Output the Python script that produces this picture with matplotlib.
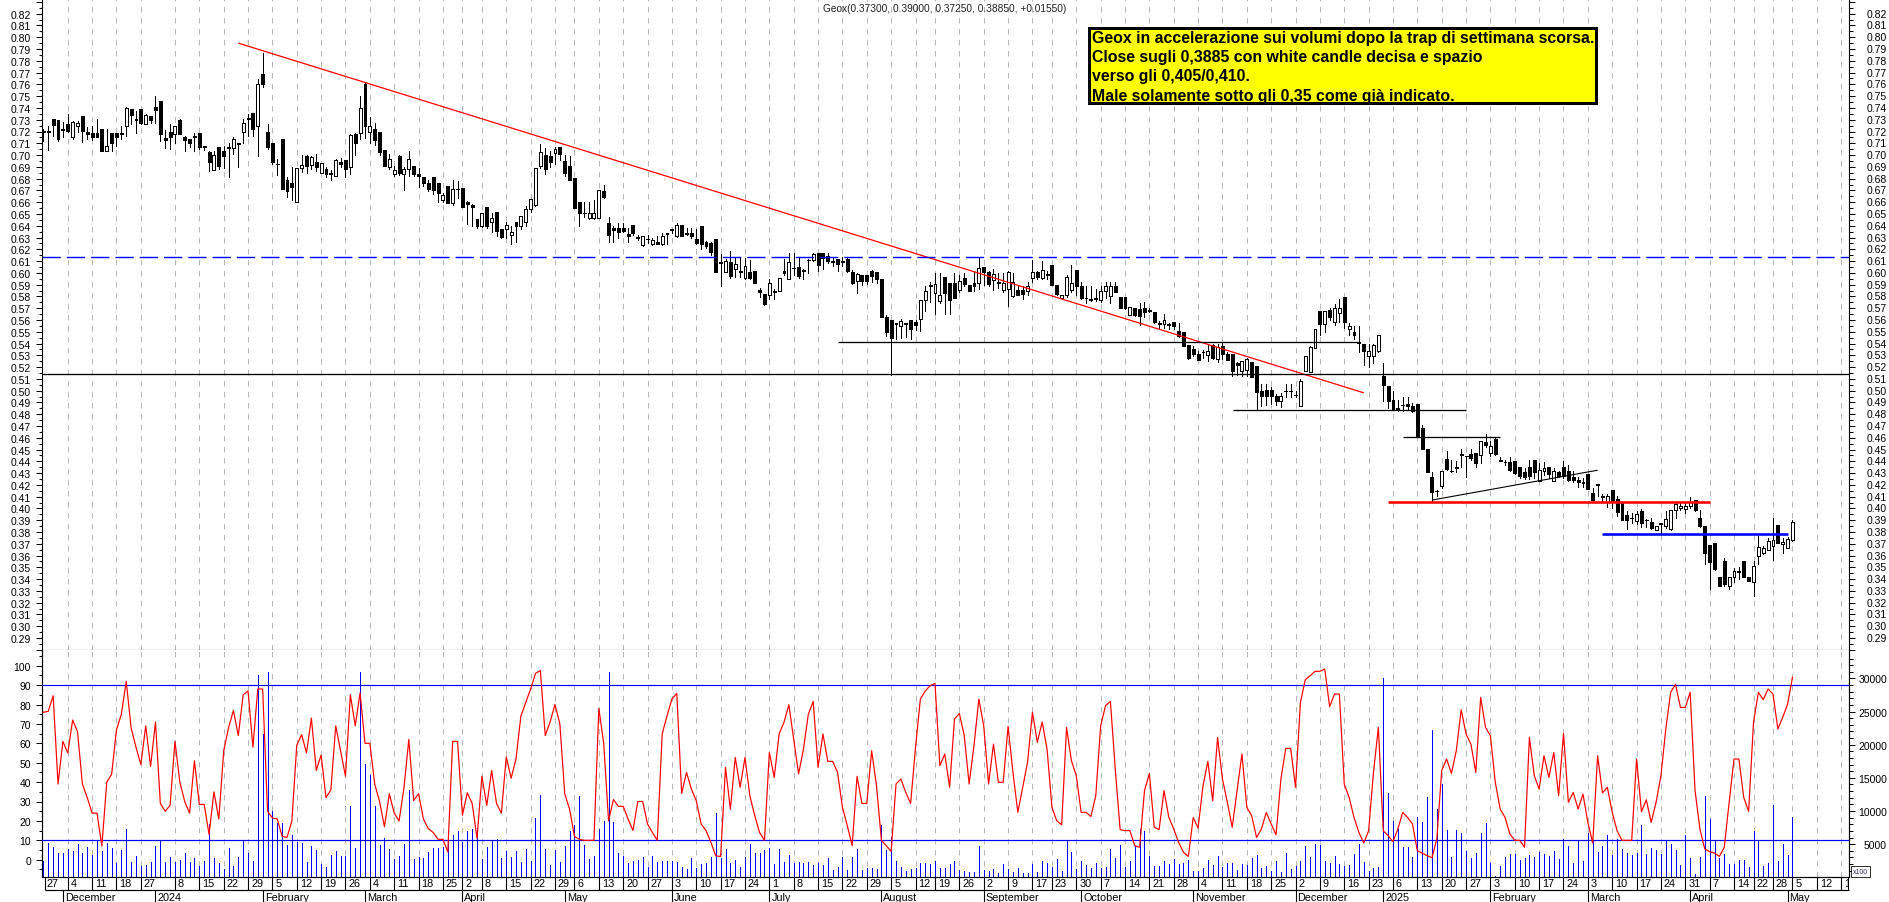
import matplotlib
matplotlib.use("Agg")
import matplotlib.pyplot as plt
from matplotlib.patches import Rectangle
from matplotlib.ticker import FixedLocator, NullFormatter, FuncFormatter
import numpy as np

plt.rcParams['font.family'] = ['Liberation Sans', 'DejaVu Sans']

W, H = 1890, 903

opens = [
 .7205,.7203,.7305,.7295,.7225,.7265,.7155,.7245,.7335,.7195,
 .7185,.7187,.722,.7035,.719,.719,.719,.725,.739,.731,
 .739,.7265,.7335,.741,.7455,.7145,.72,.7175,.73,.7155,
 .7135,.716,.7185,.708,.7025,.6875,.7065,.7035,.7065,.7058,
 .7105,.72,.7315,.7355,.725,.7685,.72,.71,.692,.714,
 .679,.6765,.66,.689,.6995,.6915,.694,.685,.688,.6845,
 .6825,.6945,.696,.69,.718,.7185,.76,.72,.7225,.72,
 .704,.69,.6835,.6995,.6835,.6885,.6905,.6835,.681,.676,
 .681,.676,.662,.6735,.6595,.6715,.672,.66,.6575,.6455,
 .6395,.6555,.6435,.6515,.637,.637,.632,.6435,.6395,.6435,
 .6545,.658,.691,.7,.699,.7015,.7068,.695,.6905,.6805,
 .66,.651,.6465,.6465,.6465,.6695,.6425,.638,.638,.638,
 .633,.6405,.6305,.6239,.629,.6245,.6265,.6245,.6335,.6375,
 .6315,.6405,.6335,.6335,.629,.6395,.6258,.6255,.6287,.6095,
 .6004,.6089,.6034,.6018,.5959,.601,.6013,.5852,.582,.5815,
 .5843,.5843,.6013,.595,.604,.6047,.6024,.6105,.6112,.6168,
 .6168,.614,.6097,.6117,.6097,.6117,.6007,.5928,.5982,.5982,
 .6013,.601,.5948,.5628,.56,.5575,.5545,.5575,.5602,.558,
 .5608,.5767,.5897,.5826,.5758,.5962,.5911,.5911,.5854,.5956,
 .5897,.5914,.591,.6047,.6007,.5942,.5919,.5857,.5863,.5806,
 .5851,.5851,.5843,.5953,.601,.5959,.5992,.6064,.5897,.5789,
 .5815,.5857,.6024,.5888,.5789,.5778,.5783,.5767,.5843,.58,
 .5888,.5792,.5792,.5645,.5699,.5693,.5699,.5683,.5665,.5575,
 .5563,.556,.558,.5509,.5495,.5387,.5353,.5311,.5325,.5302,
 .5387,.5268,.5376,.5311,.5311,.5234,.517,.5175,.5243,.5206,
 .4994,.5008,.5005,.4957,.4912,.4999,.4999,.4963,.4873,.5167,
 .5161,.5359,.5676,.5566,.5685,.558,.5656,.5795,.5523,.55,
 .541,.5393,.5291,.5297,.5334,.5124,.5037,.4921,.485,.4878,
 .4884,.4872,.4887,.468,.4505,.4267,.4151,.4188,.4417,.4318,
 .4349,.446,.4448,.446,.4468,.4454,.4567,.4473,.459,.4411,
 .4398,.4391,.4406,.4355,.4306,.4349,.4408,.4236,.4315,.4355,
 .423,.4306,.4349,.4318,.427,.4241,.4222,.4292,.4131,.4205,
 .4106,.4056,.4154,.408,.4052,.3945,.3916,.3896,.3975,.3905,
 .3888,.3819,.3874,.3854,.3822,.3984,.4005,.3999,.4018,.4075,
 .3919,.3854,.3692,.3704,.3415,.3551,.3345,.3415,.3466,.3551,
 .3415,.3373,.3599,.3622,.365,.3684,.3857,.3695,.3665,.373]
closes = [
 .7195,.7197,.7255,.7135,.7215,.7205,.728,.727,.7205,.718,
 .715,.7155,.7035,.7075,.71,.715,.718,.74,.734,.7295,
 .727,.734,.73,.7385,.718,.7125,.7155,.725,.718,.7125,
 .71,.715,.7065,.7065,.6945,.7,.691,.6995,.706,.7135,
 .7098,.7275,.731,.7225,.76,.76,.7065,.6945,.6925,.6715,
 .6695,.6725,.689,.6915,.691,.698,.69,.693,.6835,.6835,
 .6955,.692,.688,.717,.7105,.74,.7245,.7245,.713,.703,
 .691,.697,.6875,.6845,.688,.697,.6835,.6825,.6765,.671,
 .6705,.6675,.6665,.659,.6715,.671,.6555,.6585,.6555,.6395,
 .6505,.6395,.6465,.6355,.6305,.641,.635,.64,.6485,.6545,
 .6625,.689,.7025,.688,.6945,.7055,.7005,.685,.679,.655,
 .651,.6505,.651,.651,.67,.6645,.632,.6365,.6345,.6355,
 .6315,.6335,.63,.631,.6288,.628,.6245,.6315,.633,.6365,
 .6405,.631,.633,.6315,.6255,.6245,.6225,.6175,.6004,.6085,
 .6097,.597,.6072,.6004,.6055,.5959,.5914,.5835,.5735,.5911,
 .584,.5953,.6,.609,.6038,.5976,.6012,.6112,.616,.607,
 .6125,.6097,.609,.6078,.609,.6013,.5914,.599,.5928,.5928,
 .5976,.5948,.5628,.55,.5447,.557,.5588,.557,.5522,.556,
 .5767,.5846,.589,.5908,.5812,.5826,.5772,.5786,.5933,.5905,
 .5848,.5892,.6038,.6004,.5905,.599,.5915,.5914,.6004,.5919,
 .5812,.5817,.5885,.6004,.5967,.6021,.5985,.5897,.582,.5812,
 .5962,.5914,.589,.5789,.5785,.577,.5778,.5846,.5888,.589,
 .584,.5704,.5704,.5707,.5645,.5631,.5665,.5675,.5585,.557,
 .5602,.5565,.5552,.5461,.5382,.5274,.5311,.5263,.5325,.5334,
 .5274,.537,.5311,.5263,.5164,.5217,.5254,.5268,.5113,.4991,
 .4952,.4957,.4957,.4912,.4957,.4995,.4995,.496,.5082,.5291,
 .5368,.5523,.5566,.5676,.5628,.5699,.5699,.558,.5546,.5475,
 .5405,.5334,.5334,.5388,.5472,.5048,.4915,.4836,.4836,.4875,
 .4867,.4827,.4612,.4508,.4312,.4137,.4148,.4315,.4335,.4315,
 .4345,.4455,.4445,.4425,.4386,.4575,.4541,.4527,.4462,.4405,
 .4395,.4323,.4298,.4278,.427,.4278,.4307,.4329,.434,.429,
 .4315,.4278,.4278,.4245,.4245,.4222,.422,.4165,.4075,.42,
 .41,.4108,.4056,.3967,.3902,.3902,.3915,.3953,.3876,.39,
 .3834,.3848,.387,.391,.3984,.4035,.402,.4018,.4058,.399,
 .3854,.3622,.3543,.3486,.3345,.3359,.3415,.3466,.346,.3421,
 .3385,.3514,.367,.3662,.3727,.3732,.3704,.3718,.374,.3885]
highs = [
 .7225,.7245,.7305,.7295,.728,.7345,.7285,.729,.7335,.724,
 .725,.7305,.722,.722,.719,.719,.725,.7405,.739,.7375,
 .739,.735,.7335,.75,.7455,.7215,.7265,.725,.7305,.716,
 .7135,.719,.7185,.7075,.7035,.7035,.7065,.7075,.7105,.7155,
 .7105,.7305,.7345,.7355,.7645,.7865,.7265,.71,.6965,.714,
 .6815,.69,.689,.7,.7,.699,.701,.693,.6895,.6875,
 .6965,.6975,.696,.7175,.7185,.7505,.7615,.7325,.7275,.72,
 .704,.7005,.6905,.7,.69,.7035,.6905,.689,.681,.6785,
 .681,.676,.6675,.6735,.6785,.678,.672,.661,.6585,.6455,
 .651,.6555,.651,.6515,.6375,.643,.64,.6435,.6485,.6565,
 .6625,.689,.709,.706,.7035,.707,.7068,.7,.699,.6805,
 .66,.66,.66,.6615,.67,.675,.6475,.64,.642,.6425,
 .6385,.6405,.6325,.6315,.632,.63,.631,.634,.634,.6375,
 .642,.6405,.6385,.6385,.6375,.6395,.627,.6262,.6287,.6162,
 .6115,.6185,.6135,.6132,.613,.6105,.6013,.5872,.582,.595,
 .5865,.5953,.612,.6165,.6165,.613,.603,.6115,.617,.6168,
 .6168,.6168,.6135,.6117,.6135,.6135,.6025,.6,.5982,.5982,
 .6025,.601,.5948,.5645,.56,.5575,.5608,.5575,.5602,.56,
 .5767,.5885,.5925,.6,.6,.5962,.5911,.6,.5985,.6,
 .5897,.6015,.613,.6047,.6015,.603,.6,.6,.6015,.6,
 .5885,.5885,.5922,.611,.6015,.6098,.6015,.6064,.5897,.5815,
 .5985,.6065,.6024,.5925,.5885,.5885,.5865,.5885,.5925,.5922,
 .592,.5792,.5792,.5707,.5705,.5745,.5755,.5705,.5665,.5595,
 .5655,.5575,.5585,.5575,.5495,.5387,.5375,.5335,.5345,.5385,
 .54,.54,.5405,.5325,.5311,.5245,.5256,.5275,.5243,.5206,
 .5055,.5055,.5035,.4975,.498,.5055,.5055,.4999,.5098,.5295,
 .5375,.5523,.5676,.5676,.5705,.5735,.5778,.5795,.5575,.5545,
 .5545,.5393,.5393,.5395,.5472,.5235,.5037,.4995,.492,.4945,
 .4945,.4895,.4887,.4705,.4505,.431,.4155,.4315,.4485,.441,
 .4405,.4505,.4445,.4505,.4468,.4575,.4635,.4575,.4595,.4435,
 .4415,.4435,.4406,.4355,.4345,.4415,.4408,.4385,.4395,.4355,
 .4345,.4322,.4405,.4365,.4315,.4265,.426,.4292,.4175,.42,
 .4125,.412,.4154,.4105,.4052,.3975,.3965,.3975,.3992,.3912,
 .3915,.3848,.3874,.3975,.3984,.4055,.405,.4055,.4095,.4075,
 .3985,.3854,.3692,.3704,.3415,.3578,.3415,.3492,.3505,.3551,
 .3415,.3555,.3765,.3682,.3747,.3915,.3857,.3745,.3755,.39]
lows = [
 .712,.7045,.716,.712,.715,.72,.7135,.72,.7115,.714,
 .713,.7155,.7035,.7035,.7035,.708,.714,.7165,.726,.7185,
 .7265,.7265,.7275,.727,.712,.706,.7055,.71,.718,.7035,
 .7065,.7035,.705,.7045,.6865,.6875,.6885,.689,.6815,.7012,
 .69,.7105,.7165,.7165,.6995,.758,.7055,.6925,.683,.6715,
 .6645,.662,.66,.6855,.685,.688,.6865,.6845,.6815,.6785,
 .682,.6895,.681,.684,.7,.7135,.7145,.7105,.7085,.7,
 .691,.688,.682,.683,.6705,.6825,.682,.6725,.6735,.6695,
 .667,.6605,.6605,.659,.6575,.6635,.6555,.6415,.64,.6385,
 .639,.638,.6345,.631,.63,.63,.6245,.6265,.637,.64,
 .652,.657,.689,.684,.69,.6925,.696,.682,.679,.655,
 .64,.6475,.646,.646,.6465,.6635,.6265,.6265,.63,.6345,
 .6265,.632,.628,.6225,.625,.624,.6245,.6235,.6245,.6335,
 .6305,.631,.632,.63,.6245,.62,.6215,.6155,.6004,.5885,
 .6004,.5958,.5965,.5965,.5945,.595,.5914,.5795,.5725,.5775,
 .578,.5843,.5985,.595,.5985,.5955,.5945,.6,.61,.6015,
 .6035,.608,.606,.6015,.606,.601,.5905,.5825,.5895,.5905,
 .5925,.5915,.5628,.5465,.5135,.5435,.5445,.5455,.5435,.5515,
 .5505,.5675,.575,.5655,.5745,.5655,.5655,.5785,.5835,.589,
 .5848,.5845,.5862,.5895,.589,.5855,.587,.5835,.572,.5795,
 .581,.578,.5815,.5925,.5945,.5945,.5945,.5897,.5815,.5775,
 .5795,.584,.5815,.5775,.5745,.5765,.5765,.575,.5785,.5745,
 .584,.5704,.5695,.5645,.563,.5555,.5625,.5665,.5575,.553,
 .5535,.552,.5525,.5455,.5382,.5265,.5295,.5263,.5275,.5255,
 .5265,.5245,.5265,.5265,.5128,.5135,.5128,.5125,.5113,.4845,
 .487,.4875,.489,.4875,.4865,.4945,.4945,.4945,.4873,.5167,
 .5155,.5359,.5475,.5495,.56,.556,.5585,.553,.5475,.544,
 .533,.522,.52,.5235,.533,.4915,.4855,.4836,.4825,.483,
 .484,.4815,.4612,.4508,.431,.4065,.4105,.4175,.4325,.431,
 .431,.4355,.4265,.441,.4355,.4385,.4525,.4445,.4455,.44,
 .4365,.4315,.4295,.4255,.425,.425,.4255,.4236,.428,.4255,
 .423,.4265,.4255,.4235,.4225,.4185,.4185,.4165,.4075,.411,
 .4065,.4015,.4,.3935,.3902,.3825,.3875,.387,.3845,.3845,
 .3825,.3815,.3785,.3835,.382,.3915,.3985,.396,.4,.3975,
 .3845,.3525,.3315,.3475,.3345,.3345,.3315,.3375,.3405,.3421,
 .3385,.3255,.3525,.3615,.3645,.356,.3704,.3625,.3665,.3725]
oscillator = [
 76,76.5,84.5,39,61,55,72,66,39,32,
 24,24,7,40,44,67,75,92,68,58,
 49,69,48,71,29,25,28,61,40,30,
 24,51,28.5,28.5,13,35,21,56,68,77,
 64,85,87,58,88,88,25,21.5,21,12,
 11.5,20,59,64.5,55,73,46,54,32,36,
 69,56,43,85,69,86,60,60,39,30,
 17,34,24,20,37,62,30.5,34,21,16,
 14,10.5,10.5,4,61,61,23,34.5,29,11,
 43,28,46,29,24,53,42,52,74,81,
 88,96,97.5,64,71,80,70,34,26,12,
 10.5,10,10,10,78,60,20,31,27.5,27.5,
 21,
 15,30,30,18.4,14,10,64.8,74.2,82.8,85.7,
 34.2,45,36.4,30.4,18.4,15,9,2,1.7,47.6,
 26,52.7,37.3,52.7,33,22.7,14,10,55.3,42.4,
 64.8,70.8,79.9,62.2,44.2,57,75,81.6,47.6,64.8,
 50.7,50.7,45,27,17.5,7.2,43,29,29,56.2,
 38,10,7.2,4.3,39,41.6,34.7,29,57.9,82.8,
 87,89.7,90.9,48.5,54.5,37.3,72.5,75.4,64,39,
 58.8,82.8,69,39,59.6,39.9,39.9,68.7,45,24.4,
 37.3,50.2,76,60.5,71,57,27,20,18,68.2,
 51,43.3,24.4,24.4,22.3,33,69,79.4,81.6,46.7,
 15.5,15,15,7.2,6.4,35.6,44.5,16.7,15.5,35.6,
 21.8,15.8,8.9,3.8,1.7,21.8,16.3,38,50.7,30.4,
 63,41.6,29.6,16.7,35.6,54.5,27,22.7,11.5,
 15.8,24.4,18.4,12.9,41.6,57.4,57.4,37.3,81.1,92.8,
 94.8,97.1,97.1,98.3,78.9,85.4,85.4,39,32.1,21.8,
 14.1,8.6,14.9,45,68.2,14.9,12.4,9.3,15.8,24.4,
 21.8,18.4,4.6,3.4,2.1,1,10.7,45.9,51.9,44.5,
 56.2,77.3,64.8,59.6,45,83.7,68.2,63.9,39.9,26.1,
 21.8,13.2,10,10,6.4,63.1,43.3,36.4,53.6,42.4,
 55.3,33,65.1,29.6,34.7,26.1,33.8,19.2,8.6,53.6,
 34.4,37.3,24.4,14.9,10,10,10,51.9,24.7,30.9,
 19.2,29.6,43.3,67.4,86.3,90.4,78.5,78.5,86.3,35.6,
 15.8,5.5,4.1,3.4,1.7,6.4,29.6,51.9,51.9,32.1,
 24.9,70.8,86.3,82.5,88,85.4,67.4,73.4,80.2,94]
volumes = [
 2500,5150,4550,3650,3650,4300,3950,5000,3650,4550,
 3350,5550,3950,5150,4400,2150,4100,7250,2250,3200,
 1700,1850,2250,4700,5550,2300,3050,2300,2600,3650,
 2300,2900,1700,2450,8000,2900,2150,1200,4400,1700,
 3050,5550,3650,2450,30500,21650,30950,9950,8150,8150,
 4850,6350,5300,5150,2300,4700,4100,2000,1550,3350,
 3950,3200,3200,10750,4400,30950,17150,15500,10700,4850,
 5900,4250,2750,3200,5000,13100,2750,3050,2900,3800,
 4400,4400,4550,6950,6350,6950,5300,6950,7250,7400,
 2750,4550,5550,5750,2900,3950,3050,3950,2300,4250,
 2450,8900,12350,4250,1850,4100,2300,4700,6950,7850,
 12200,4850,2750,3200,7250,8450,30950,8300,3650,3200,
 2150,
 2500,2600,3050,1550,3200,2300,2450,2450,2450,2300,
 1550,1250,2900,1400,2000,2150,3050,9650,2900,4250,
 2150,2600,1550,3050,5000,3650,3650,4100,4400,2000,
 4250,2300,3350,2150,2300,2150,2300,1850,2150,1850,
 2900,1100,1550,3050,1100,3050,4250,1100,1400,1400,
 1250,7850,4050,6050,2450,1550,950,1250,1400,2150,
 2150,2000,2450,1400,1400,2000,2450,1100,950,800,
 800,4700,1100,950,1250,650,2000,1250,800,1400,
 650,650,2000,800,2450,2150,1550,2750,950,5700,
 3800,1250,2450,1850,1400,2150,1400,1550,4250,2900,
 4850,1550,2450,4700,7250,6950,3200,1700,1700,2450,
 2000,2750,2000,2150,2600,950,950,1400,2600,1850,
 3200,1550,2150,2150,1100,2000,1850,2900,3350,
 1400,1700,950,2450,800,3650,1250,1700,2450,4700,
 3050,5000,4850,2450,2150,3200,2000,1700,1850,3500,
 5000,2300,950,1400,1550,30050,12650,8450,7250,4550,
 4550,3050,9050,8300,12050,22250,10250,14000,7100,3050,
 7100,6650,3950,2900,3650,6650,8150,2150,250,1700,
 3050,3500,3500,2600,2900,3300,3050,3800,3500,3150,
 3950,2750,5750,4700,2150,5550,2450,6650,5550,3800,
 4700,6350,3350,5750,4250,3650,3350,3650,7850,3500,
 4400,4100,3500,5550,5000,4100,1850,6350,2900,500,
 3050,12200,8750,5550,2900,3500,2000,2000,2600,2600,
 1550,6950,5550,1700,2150,10850,2450,5000,3350,9050]

day_ticks = [0,5,10,15,20,27,32,37,42,47,52,57,62,67,72,77,82,86,90,95,100,105,
             109,114,119,124,129,134,139,144,149,154,159,164,169,174,179,183,188,
             193,198,203,207,212,217,222,227,232,237,242,247,252,257,262,267,272,
             277,282,287,292,297,302,307,312,317,322,327,332,337,342,347,351,355,
             359,364,369]
day_labels = ['27','4','11','18','27','8','15','22','29','5','12','19','26','4','11','18','25','2','8','15','22','29',
              '6','13','20','27','3','10','17','24','1','8','15','22','29','5','12','19','26',
              '2','9','17','23','30','7','14','21','28','4','11','18','25','2','9','16','23',
              '6','13','20','27','3','10','17','24','3','10','17','24','31','7','14','22','28',
              '5','12','19']
month_ticks = [4,23,45,66,86,107,129,149,172,193,213,236,257,275,297,317,338,358]
month_labels = ['December','2024','February','March','April','May','June','July','August',
                'September','October','November','December','2025','February','March','April','May']

trend_x = [40.1, 270.9]
trend_y = [0.7949, 0.4983]
slant_x = [285.1, 318.9]
slant_y = [0.4072, 0.4324]
res_dash = 0.6132
res_long = 0.5139
seg_black = [(0.5410, 163.1, 270.1), (0.4833, 244.2, 292.0), (0.4604, 279.0, 298.9)]
seg_red = (0.4057, 276.0, 342.1)
seg_blue = (0.3783, 319.9, 358.1)
title = "Geox(0.37300, 0.39000, 0.37250, 0.38850, +0.01550)"
note = ["Geox in accelerazione sui volumi dopo la trap di settimana scorsa.",
        "Close sugli 0,3885 con white candle decisa e spazio",
        "verso gli 0,405/0,410.",
        "Male solamente sotto gli 0,35 come già indicato."]

for name, arr in dict(opens=opens, closes=closes, highs=highs, lows=lows,
                      oscillator=oscillator, volumes=volumes).items():
    assert len(arr) == 360, f"{name} {len(arr)}"
assert len(day_ticks) == len(day_labels), (len(day_ticks), len(day_labels))

def rect(x0, y0, x1, y1):
    return [x0 / W, 1 - y1 / H, (x1 - x0) / W, (y1 - y0) / H]

L, R, SEP, BOT = 42, 1849, 651.3, 878.3
xlim = (-0.29, 370.6)
FS = 7.5
px = 0.72

fig = plt.figure(figsize=(W / 100, H / 100), dpi=100, facecolor='white')
ax1 = fig.add_axes(rect(L, 0, R, SEP))
ax2v = fig.add_axes(rect(L, SEP, R, BOT))
ax2 = ax2v.twinx()
ax3 = fig.add_axes(rect(L, BOT, R, H))

x = np.arange(360)
o, c, h, l = map(np.array, (opens, closes, highs, lows))

# price panel
p_top = 0.82 + 14.7 / 1178
p_bot = 0.82 - (SEP - 14.7) / 1178
ax1.set_xlim(*xlim); ax1.set_ylim(p_bot, p_top)
grid = dict(color='#b8b8b8', lw=1.0 * px, ls=(0, (5.5, 5.5)), zorder=0)
for t in day_ticks[1:]:
    ax1.axvline(t, **grid)
    ax2v.axvline(t, **grid)

ax1.vlines(x, l, h, color='black', lw=0.7, zorder=2, antialiased=False)
up = c >= o
ax1.bar(x[up], (c - o)[up], bottom=o[up], width=0.6, facecolor='white', edgecolor='black',
        lw=0.7, zorder=3, antialiased=False)
ax1.bar(x[~up], (o - c)[~up], bottom=c[~up], width=0.6, facecolor='black', edgecolor='black',
        lw=0.7, zorder=3, antialiased=False)

ax1.plot(trend_x, trend_y, color='#ff0000', lw=1.25 * px, zorder=4)
ax1.plot(slant_x, slant_y, color='black', lw=1.1 * px, zorder=4)
ax1.axhline(res_dash, color='#0000ff', lw=1.4 * px, ls=(0, (18.3 / 1.4, 6 / 1.4)), zorder=4)
ax1.axhline(res_long, color='black', lw=1.3 * px, zorder=4)
for y, a, b in seg_black:
    ax1.hlines(y, a, b, color='black', lw=1.3 * px, zorder=4)
ax1.hlines(seg_red[0], seg_red[1], seg_red[2], color='#ff0000', lw=2.6 * px, zorder=4)
ax1.hlines(seg_blue[0], seg_blue[1], seg_blue[2], color='#0000ff', lw=2.6 * px, zorder=4)

major = np.arange(28, 84) / 100
minor = np.arange(28, 83) / 100 + 0.005
lab = {round(v, 2) for v in np.arange(29, 83) / 100}
ax1.yaxis.set_major_locator(FixedLocator(major))
ax1.yaxis.set_minor_locator(FixedLocator(minor))
ax1.yaxis.set_major_formatter(FuncFormatter(lambda v, _: f"{v:.2f}" if round(v, 2) in lab else ""))
ax1.yaxis.set_minor_formatter(NullFormatter())
ax1.tick_params(axis='y', which='major', left=True, right=True, labelleft=True, labelright=False,
                length=6.4 * px, width=px, labelsize=FS, pad=3.3)
ax1.tick_params(axis='y', which='minor', left=True, right=True, length=3.5 * px, width=px)
ax1.tick_params(axis='x', bottom=False, labelbottom=False)

# oscillator panel
ax2v.set_xlim(*xlim)
ax2v.set_ylim(0, (BOT - SEP) / 0.00663)
ax2.set_xlim(*xlim)
ax2.set_ylim(-(BOT - 860.7) / 1.94, (860.7 - SEP) / 1.94)
ax2v.vlines(x, 0, volumes, color='#0000ff', lw=0.7, zorder=2, antialiased=False)
ax2.plot(x, oscillator, color='#ff0000', lw=1.2 * px, zorder=4)
ax2.axhline(90, color='#0000ff', lw=1.2 * px, zorder=3)
ax2.axhline(10, color='#0000ff', lw=1.2 * px, zorder=3)
ax2.set_zorder(ax2v.get_zorder() + 1)
ax2.patch.set_visible(False)

# oscillator scale on the left, volume scale on the right
ax2.yaxis.tick_left()
ax2.yaxis.set_major_locator(FixedLocator(np.arange(0, 101, 10)))
ax2.yaxis.set_minor_locator(FixedLocator(np.arange(-5, 106, 5)))
ax2.yaxis.set_minor_formatter(NullFormatter())
ax2.tick_params(axis='y', which='major', length=6.4 * px, width=px, labelsize=FS, pad=3.3)
ax2.tick_params(axis='y', which='minor', length=3.5 * px, width=px)
ax2.tick_params(axis='x', bottom=False, labelbottom=False)
ax2v.yaxis.tick_right()
ax2v.yaxis.set_major_locator(FixedLocator(np.arange(5000, 30001, 5000)))
ax2v.yaxis.set_minor_locator(FixedLocator(np.arange(1000, 34000, 1000)))
ax2v.yaxis.set_minor_formatter(NullFormatter())
ax2v.tick_params(axis='y', which='major', length=6.4 * px, width=px, labelsize=FS,
                 pad=(1887 - R - 6.4) * px)
ax2v.tick_params(axis='y', which='minor', length=3.5 * px, width=px)
ax2v.tick_params(axis='x', bottom=False, labelbottom=False)
for lbl in ax2v.get_yticklabels():
    lbl.set_ha('right')

# right price labels: right-aligned at a common edge
for v in major:
    if round(v, 2) in lab:
        ax1.annotate(f"{v:.2f}", xy=(1, v), xycoords=ax1.get_yaxis_transform(),
                     xytext=(1887 - R, 0), textcoords='offset pixels', ha='right', va='center',
                     fontsize=FS, annotation_clip=False)

for ax in (ax1, ax2, ax2v):
    for s in ax.spines.values():
        s.set_linewidth(1.1 * px)
ax1.spines['top'].set_visible(False)
for ax in (ax2, ax2v):
    ax.spines['top'].set_visible(False)

# date axis
ax3.set_xlim(*xlim)
ax3.set_ylim(H, BOT)
ax3.axis('off')
row = 891
ax3.hlines(row, 0.4, xlim[1], color='black', lw=1.2 * px, clip_on=False)
ax3.vlines([0.4], BOT, row, color='black', lw=1.1 * px)
ax3.vlines(xlim[1], BOT, row, color='black', lw=2 * px)
ax3.vlines(day_ticks[1:], BOT, row, color='black', lw=1.1 * px)
ax3.vlines(month_ticks, row, H, color='black', lw=1.1 * px)
for t, s in zip(day_ticks, day_labels):
    ax3.annotate(s, xy=(t, 884.5), xycoords='data', xytext=(3, 0), textcoords='offset pixels',
                 ha='left', va='center', fontsize=FS + 0.3, clip_on=True,
                 annotation_clip=False)
for t, s in zip(month_ticks, month_labels):
    ax3.annotate(s, xy=(t, 898), xycoords='data', xytext=(2, 0), textcoords='offset pixels',
                 ha='left', va='center', fontsize=FS + 0.3)

# x100 box
fig.add_artist(Rectangle((1851 / W, 1 - 878 / H), 19 / W, 11 / H, transform=fig.transFigure,
                         fc='white', ec='black', lw=0.8 * px))
fig.text(1860.5 / W, 1 - 872.7 / H, 'x100', fontsize=5, color='#333355', ha='center', va='center')

# title and yellow note
fig.text(945 / W, 1 - 9 / H, title, ha='center', va='center', fontsize=7.3, color='#222222')
fig.add_artist(Rectangle((1089.4 / W, 1 - 103.5 / H), 506.7 / W, 74.7 / H, transform=fig.transFigure,
                         fc='#ffff00', ec='black', lw=3 * px, zorder=10))
for i, s in enumerate(note):
    fig.text(1092 / W, 1 - (38.4 + 19.2 * i) / H, s, ha='left', va='center', fontsize=11.45,
             fontweight='bold', color='black', zorder=11)

fig.savefig('out.png', dpi=100)
